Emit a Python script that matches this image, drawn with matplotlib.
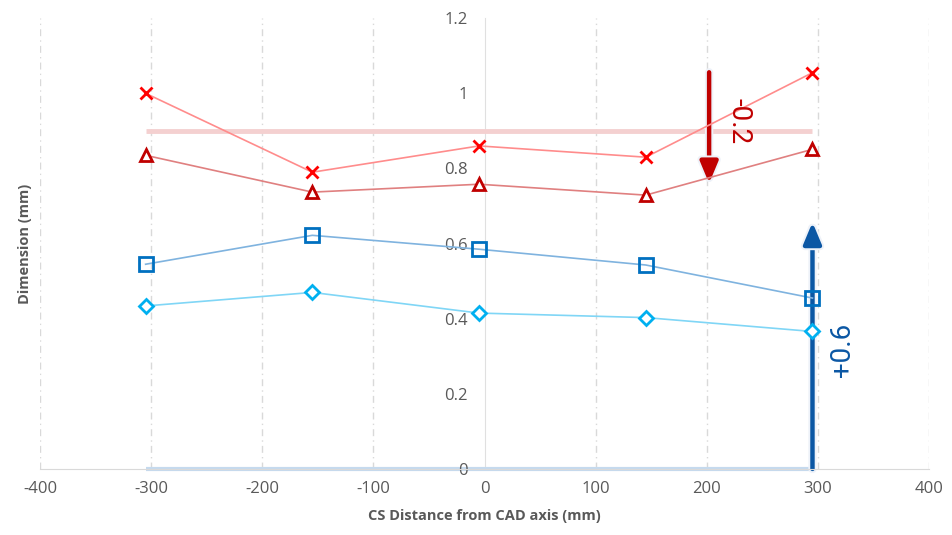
import matplotlib.pyplot as plt
import matplotlib.patheffects as pe

# measured points along the part
cs_distance = [-305, -155, -5, 145, 295]
dim_cross = [1.00, 0.79, 0.86, 0.83, 1.055]
dim_triangle = [0.835, 0.737, 0.758, 0.729, 0.851]
dim_square = [0.545, 0.622, 0.585, 0.543, 0.455]
dim_diamond = [0.434, 0.470, 0.415, 0.403, 0.366]

# reference levels and shift arrows
upper_ref = 0.9
lower_ref = 0.0
shift_down_x, shift_down_from, shift_down_to = 202, 1.056, 0.76
shift_up_x, shift_up_from, shift_up_to = 295, 0.0, 0.657

x_ticks = [-400, -300, -200, -100, 0, 100, 200, 300, 400]
y_ticks = [0, 0.2, 0.4, 0.6, 0.8, 1.0, 1.2]
y_tick_labels = ['0', '0.2', '0.4', '0.6', '0.8', '1', '1.2']

plt.rcParams['font.family'] = ['Open Sans', 'DejaVu Sans']
grey = '#595959'

fig = plt.figure(figsize=(9.53, 5.35), dpi=100)
ax = fig.add_axes([0.042, 0.1234, 0.933, 0.8426])
ax.set_xlim(-400, 400)
ax.set_ylim(0, 1.2)

# vertical dashed gridlines (not at 0, the y axis sits there)
for xv in x_ticks:
    if xv != 0:
        ax.axvline(xv, color='#D9D9D9', lw=1, ls=(0, (5, 3, 1, 3)), zorder=0)

# reference lines
ax.plot([cs_distance[0], cs_distance[-1]], [upper_ref, upper_ref],
        color='#F4D0D0', lw=3.5, solid_capstyle='butt', zorder=1)
ax.plot([cs_distance[0], cs_distance[-1]], [lower_ref, lower_ref],
        color='#C5DAEE', lw=3, solid_capstyle='butt', zorder=1, clip_on=False)

glow = [pe.withStroke(linewidth=6, foreground='#EEF2F9')]
arrow_style = '-|>,head_length=0.65,head_width=0.27'
ax.annotate('', xy=(shift_down_x, shift_down_to), xytext=(shift_down_x, shift_down_from),
            arrowprops=dict(arrowstyle=arrow_style, color='#C00000', lw=3.2,
                            mutation_scale=20, shrinkA=0, shrinkB=0,
                            path_effects=glow), zorder=2)
ax.annotate('', xy=(shift_up_x, shift_up_to), xytext=(shift_up_x, shift_up_from),
            arrowprops=dict(arrowstyle=arrow_style, color='#0B57A4', lw=3.2,
                            mutation_scale=20, shrinkA=0, shrinkB=0,
                            path_effects=glow), zorder=2)

ax.plot(cs_distance, dim_cross, color='#FF8C8C', lw=1.2, marker='x', ms=9,
        mec='#FF0000', mew=2, zorder=3)
ax.plot(cs_distance, dim_triangle, color='#E08080', lw=1.2, marker='^', ms=9,
        mfc='white', mec='#C00000', mew=2, zorder=3)
ax.plot(cs_distance, dim_square, color='#7FB3DF', lw=1.2, marker='s', ms=10,
        mfc='none', mec='#0070C0', mew=2, zorder=3)
ax.plot(cs_distance, dim_diamond, color='#80D6F6', lw=1.2, marker='D', ms=7.5,
        mfc='white', mec='#00B0F0', mew=2, zorder=3)

ax.text(229, 0.925, '-0.2', rotation=270, color='#C00000', fontsize=20,
        family='Roboto', ha='center', va='center')
ax.text(322, 0.316, '+0.6', rotation=90, color='#0B57A4', fontsize=20,
        family='Roboto', ha='center', va='center')

# axes styling
for side in ['top', 'right']:
    ax.spines[side].set_visible(False)
ax.spines['left'].set_position(('data', 0))
ax.spines['left'].set_color('#E0E0E0')
ax.spines['bottom'].set_color('#D9D9D9')
ax.spines['left'].set_zorder(0)

ax.set_xticks(x_ticks)
ax.set_xticklabels([str(v) for v in x_ticks])
ax.set_yticks(y_ticks)
ax.set_yticklabels(y_tick_labels)
ax.tick_params(axis='both', length=0, labelsize=12, labelcolor=grey)
ax.tick_params(axis='x', pad=9)
ax.tick_params(axis='y', pad=12)

ax.set_xlabel('CS Distance from CAD axis (mm)', fontsize=10.5, fontweight='bold',
              color=grey, labelpad=8)
fig.text(0.026, 0.545, 'Dimension (mm)', rotation=90, fontsize=10.5,
         fontweight='bold', color=grey, ha='center', va='center')

fig.savefig('out.png', dpi=100)
